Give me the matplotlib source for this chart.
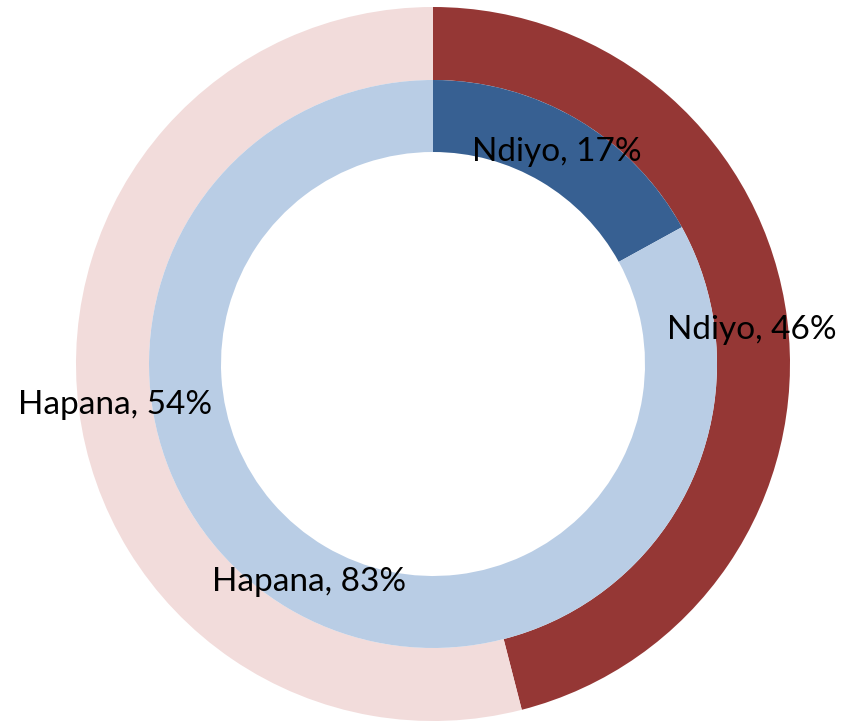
import matplotlib
matplotlib.use('agg')
import matplotlib.pyplot as plt

# data
outer_labels = ['Ndiyo', 'Hapana']
outer_values = [46, 54]
inner_labels = ['Ndiyo', 'Hapana']
inner_values = [17, 83]

outer_colors = ['#953735', '#F2DCDB']
inner_colors = ['#376092', '#B9CDE5']

plt.rcParams['font.family'] = ['Lato', 'DejaVu Sans']

fig = plt.figure(figsize=(8.41, 7.21), dpi=100)
ax = fig.add_axes([0, 0, 1, 1])

cx, cy = 433, 357
r_out, r_mid, r_in = 357, 284, 212

ax.pie(outer_values, colors=outer_colors, startangle=90, counterclock=False,
       radius=r_out, center=(cx, cy), frame=True,
       wedgeprops=dict(width=r_out - r_mid, linewidth=0))
ax.pie(inner_values, colors=inner_colors, startangle=90, counterclock=False,
       radius=r_mid, center=(cx, cy), frame=True,
       wedgeprops=dict(width=r_mid - r_in, linewidth=0))
ax.set_xlim(0, 841)
ax.set_ylim(0, 721)
ax.set_aspect('equal')
ax.axis('off')

# labels
label_pos_outer = [(752, 721 - 330), (115, 721 - 405)]
label_pos_inner = [(557, 721 - 152), (309, 721 - 582)]
for lab, v, (x, y) in zip(outer_labels, outer_values, label_pos_outer):
    ax.text(x, y, f'{lab}, {v}%', ha='center', va='center', fontsize=24)
for lab, v, (x, y) in zip(inner_labels, inner_values, label_pos_inner):
    ax.text(x, y, f'{lab}, {v}%', ha='center', va='center', fontsize=24)

fig.savefig('out.png', dpi=100)
